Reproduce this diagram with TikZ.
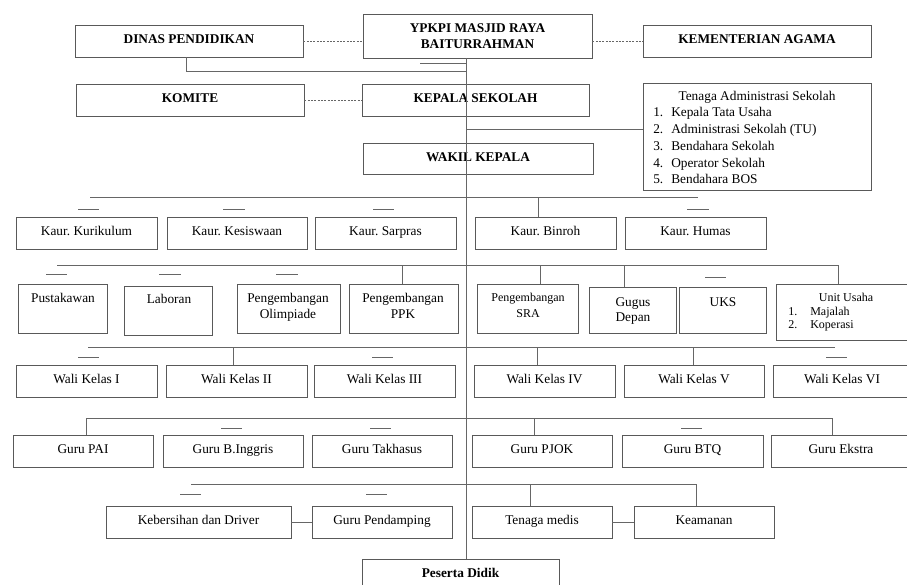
\documentclass[tikz,border=0pt]{standalone}
\usepackage{fontspec}
\setmainfont{Liberation Serif}
\frenchspacing
\tikzset{
  box/.style={draw=black!65, line width=0.7pt, inner sep=1pt, align=center, font=\fontsize{10}{12}\selectfont, text height=6.8pt, text depth=2.8pt},
  bbox/.style={box, font=\fontsize{10}{12}\selectfont\bfseries},
  mbox/.style={draw=black!65, line width=0.7pt, inner sep=1pt, align=center, font=\fontsize{10}{12}\selectfont\bfseries},
  ln/.style={draw=black!60, line width=0.7pt},
  dot/.style={draw=black!60, line width=0.7pt, dash pattern=on 1.5pt off 1pt},
  txt/.style={inner sep=0pt, font=\fontsize{10}{12}\selectfont},
  stxt/.style={inner sep=0pt, font=\fontsize{9}{11}\selectfont},
}
\newcommand\bx[7][box]{\node[#1, minimum width={(#5-#3)*0.75pt}, minimum height={(#6-#4)*0.75pt}] (#2) at ({(#3+#5)/2},{(#4+#6)/2}) {#7};}
\newcommand\tx[5][txt]{\node[#1, anchor=base] (#2) at (#3,#4) {#5};}
\newcommand\tw[5][txt]{\node[#1, anchor=base west] (#2) at (#3,#4) {#5};}
\begin{document}
\begin{tikzpicture}[x=0.75pt, y=-0.75pt]
\useasboundingbox (0,0) rectangle (907,585);
\fill[white] (0,0) rectangle (907,585);
\clip (0,0) rectangle (907,585);

% top level
\bx[bbox]{dinas}{75}{25}{303}{57}{DINAS PENDIDIKAN}
\bx[mbox]{ypkpi}{363}{14}{592}{58}{YPKPI MASJID RAYA\\BAITURRAHMAN}
\bx[bbox]{kemenag}{643}{25}{871}{57}{KEMENTERIAN AGAMA}
\bx[bbox]{komite}{76}{84}{304}{116}{KOMITE}
\bx[bbox]{kepsek}{362}{84}{589}{116}{KEPALA SEKOLAH}
\bx[bbox]{wakil}{363}{143}{593}{174}{WAKIL KEPALA}
\bx{tenaga}{643}{83}{871}{190}{}
\tx{tnh}{757}{101}{Tenaga Administrasi Sekolah}
\tw{tn1}{653}{117}{1.}\tw{tt1}{671}{117}{Kepala Tata Usaha}
\tw{tn2}{653}{133}{2.}\tw{tt2}{671}{133}{Administrasi Sekolah (TU)}
\tw{tn3}{653}{150}{3.}\tw{tt3}{671}{150}{Bendahara Sekolah}
\tw{tn4}{653}{167}{4.}\tw{tt4}{671}{167}{Operator Sekolah}
\tw{tn5}{653}{183}{5.}\tw{tt5}{671}{183}{Bendahara BOS}

% Kaur row
\bx{kurikulum}{16}{217}{157}{249}{Kaur. Kurikulum}
\bx{kesiswaan}{167}{217}{307}{249}{Kaur. Kesiswaan}
\bx{sarpras}{315}{217}{456}{249}{Kaur. Sarpras}
\bx{binroh}{475}{217}{616}{249}{Kaur. Binroh}
\bx{humas}{625}{217}{766}{249}{Kaur. Humas}

% third row
\bx{pustakawan}{18}{284}{107}{333}{}
\bx{laboran}{124}{286}{212}{335}{}
\bx{olimpiade}{237}{284}{340}{333}{}
\bx{ppk}{349}{284}{458}{333}{}
\bx{sra}{477}{284}{578}{333}{}
\bx{gugus}{589}{287}{676}{333}{}
\bx{uks}{679}{287}{766}{333}{}
\bx{unit}{776}{284}{916}{340}{}
\tx{tpus}{63}{302}{Pustakawan}
\tx{tlab}{169}{303}{Laboran}
\tx{tol1}{288}{302}{Pengembangan}\tx{tol2}{288}{318}{Olimpiade}
\tx{tpp1}{403}{302}{Pengembangan}\tx{tpp2}{403}{318}{PPK}
\tx[stxt]{tsr1}{528}{301}{Pengembangan}\tx[stxt]{tsr2}{528}{317}{SRA}
\tx{tgu1}{633}{306}{Gugus}\tx{tgu2}{633}{321}{Depan}
\tx{tuks}{723}{306}{UKS}
\tx[stxt]{tun}{846}{301}{Unit Usaha}
\tw[stxt]{tun1}{788}{315}{1.}\tw[stxt]{tuu1}{810}{315}{Majalah}
\tw[stxt]{tun2}{788}{328}{2.}\tw[stxt]{tuu2}{810}{328}{Koperasi}

% wali kelas
\bx{wali1}{16}{365}{157}{397}{Wali Kelas I}
\bx{wali2}{166}{365}{307}{397}{Wali Kelas II}
\bx{wali3}{314}{365}{455}{397}{Wali Kelas III}
\bx{wali4}{474}{365}{615}{397}{Wali Kelas IV}
\bx{wali5}{624}{365}{764}{397}{Wali Kelas V}
\bx{wali6}{773}{365}{911}{397}{Wali Kelas VI}

% guru
\bx{pai}{13}{435}{153}{467}{Guru PAI}
\bx{inggris}{163}{435}{303}{467}{Guru B.Inggris}
\bx{takhasus}{312}{435}{452}{467}{Guru Takhasus}
\bx{pjok}{472}{435}{612}{467}{Guru PJOK}
\bx{btq}{622}{435}{763}{467}{Guru BTQ}
\bx{ekstra}{771}{435}{911}{467}{Guru Ekstra}

% row 6
\bx{kebersihan}{106}{506}{291}{538}{Kebersihan dan Driver}
\bx{pendamping}{312}{506}{452}{538}{Guru Pendamping}
\bx{medis}{472}{506}{612}{538}{Tenaga medis}
\bx{keamanan}{634}{506}{774}{538}{Keamanan}

\bx[bbox]{peserta}{362}{559}{559}{591}{Peserta Didik}

% connectors
\coordinate (sp) at (466,0);
\draw[ln] (ypkpi.south -| sp) -- (peserta.north -| sp);
\coordinate (d1) at (186,71);
\draw[ln] (dinas.south -| d1) -- (d1) -- (d1 -| sp);
\coordinate (u1) at (420,63);
\draw[ln] (u1) -- (u1 -| sp);
\draw[dot] (dinas.east) -- (dinas.east -| ypkpi.west);
\draw[dot] (kemenag.west -| ypkpi.east) -- (kemenag.west);
\draw[dot] (komite.east) -- (komite.east -| kepsek.west);
\coordinate (ta) at (466,129);
\draw[ln] (ta) -- (ta -| tenaga.west);

% kaur bus
\coordinate (kb1) at (90,197); \coordinate (kb2) at (698,197);
\draw[ln] (kb1) -- (kb2);
\coordinate (kb3) at (538,197);
\draw[ln] (kb3) -- (kb3 |- binroh.north);
\foreach \a/\b in {78/99,223/245,373/394,687/709} \draw[ln] (\a,209) -- (\b,209);

% row 3 bus
\coordinate (rb1) at (57,265); \coordinate (rb2) at (838,265);
\draw[ln] (rb1) -- (rb2);
\coordinate (rv1) at (402,265); \coordinate (rv2) at (540,265); \coordinate (rv3) at (624,265);
\draw[ln] (rv1) -- (rv1 |- ppk.north);
\draw[ln] (rv2) -- (rv2 |- sra.north);
\draw[ln] (rv3) -- (rv3 |- gugus.north);
\draw[ln] (rb2) -- (rb2 |- unit.north);
\foreach \a/\b in {46/67,159/181,276/298} \draw[ln] (\a,274) -- (\b,274);
\draw[ln] (705,277) -- (726,277);

% wali bus
\coordinate (wb1) at (88,347); \coordinate (wb2) at (835,347);
\draw[ln] (wb1) -- (wb2);
\coordinate (wv1) at (233,347); \coordinate (wv2) at (537,347); \coordinate (wv3) at (693,347);
\draw[ln] (wv1) -- (wv1 |- wali2.north);
\draw[ln] (wv2) -- (wv2 |- wali4.north);
\draw[ln] (wv3) -- (wv3 |- wali5.north);
\foreach \a/\b in {78/99,372/393,826/847} \draw[ln] (\a,357) -- (\b,357);

% guru bus
\coordinate (gb1) at (86,418); \coordinate (gb2) at (832,418);
\draw[ln] (gb1 |- pai.north) -- (gb1) -- (gb2) -- (gb2 |- ekstra.north);
\coordinate (gv1) at (534,418);
\draw[ln] (gv1) -- (gv1 |- pjok.north);
\foreach \a/\b in {221/242,370/391,681/702} \draw[ln] (\a,428) -- (\b,428);

% row 6 bus
\coordinate (sb1) at (191,484); \coordinate (sb2) at (696,484);
\draw[ln] (sb1) -- (sb2) -- (sb2 |- keamanan.north);
\coordinate (sv1) at (530,484);
\draw[ln] (sv1) -- (sv1 |- medis.north);
\foreach \a/\b in {180/201,366/387} \draw[ln] (\a,494) -- (\b,494);
\draw[ln] (kebersihan.east) -- (pendamping.west);
\draw[ln] (medis.east) -- (keamanan.west);
\end{tikzpicture}
\end{document}
